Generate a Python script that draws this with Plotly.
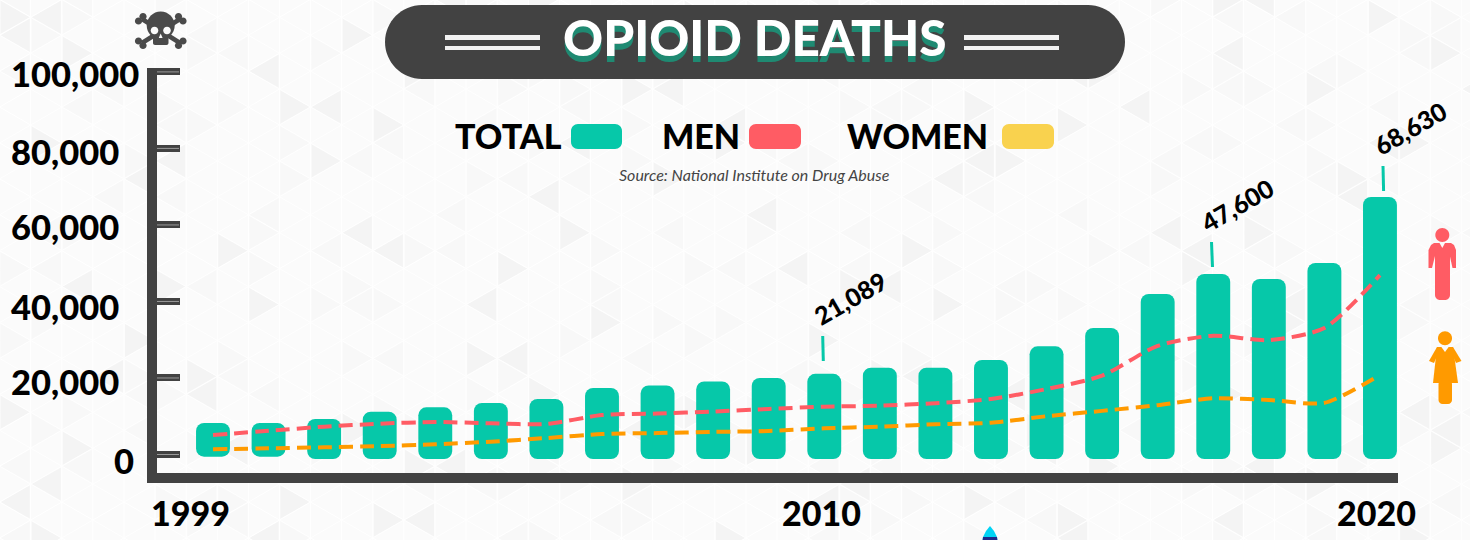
import math
import plotly.graph_objects as go

# ---------- data ----------
years = list(range(1999, 2021))
total = [8230, 8230, 9280, 11190, 12340, 13460, 14510, 17380, 18030, 19080, 20000,
         21089, 22690, 22690, 24700, 28280, 33060, 41950, 47200, 45870, 50050, 67300]
men = [5100, 6200, 7270, 8050, 8500, 8150, 7970, 10300, 10700, 11240, 11900,
       12500, 12750, 13400, 14500, 17100, 20600, 28400, 31050, 29900, 33060, 46900]
women = [1360, 1620, 1880, 2200, 2670, 3350, 4300, 5360, 5600, 5900, 6140,
         6850, 7270, 7900, 8300, 10000, 11400, 12900, 14700, 14250, 13500, 20800]
bar_floor = [-570, -570] + [-1180] * 20
y_ticks = [0, 20000, 40000, 60000, 80000, 100000]
y_tick_text = ["0", "20,000", "40,000", "60,000", "80,000", "100,000"]
x_tick_years = [1999, 2010, 2020]
callout_text = ["21,089", "47,600", "68,630"]
legend_names = ["TOTAL", "MEN", "WOMEN"]

# ---------- style ----------
W, H = 1470, 540
L, R, T, B = 157, 1398, 68, 473
DARK = "#424242"
TEAL = "#06c8a9"
RED = "#ff5c64"
ORANGE = "#ff9a00"
YELLOW = "#f9d24e"
BG = "#fbfbfb"
FONT = "Lato"


def px(x):
    return (x - L) / (R - L)


def py(y):
    return (B - y) / (B - T)


def rrect(x0, y0, x1, y1, r):
    k = 0.45 * r
    return (f"M{px(x0+r)},{py(y0)} L{px(x1-r)},{py(y0)} "
            f"C{px(x1-k)},{py(y0)} {px(x1)},{py(y0+k)} {px(x1)},{py(y0+r)} "
            f"L{px(x1)},{py(y1-r)} C{px(x1)},{py(y1-k)} {px(x1-k)},{py(y1)} {px(x1-r)},{py(y1)} "
            f"L{px(x0+r)},{py(y1)} C{px(x0+k)},{py(y1)} {px(x0)},{py(y1-k)} {px(x0)},{py(y1-r)} "
            f"L{px(x0)},{py(y0+r)} C{px(x0)},{py(y0+k)} {px(x0+k)},{py(y0)} {px(x0+r)},{py(y0)} Z")


def poly(points):
    return "M" + " L".join(f"{px(a)},{py(b)}" for a, b in points) + " Z"


def circle(cx, cy, r):
    return rrect(cx - r, cy - r, cx + r, cy + r, r)


shapes = []


def add_path(d, fill, layer="below", line=None, width=0):
    shapes.append(dict(type="path", xref="paper", yref="paper", path=d, fillcolor=fill,
                       line=dict(color=line or "rgba(0,0,0,0)", width=width), layer=layer))


def add_line(x0, y0, x1, y1, color, width, layer="below"):
    shapes.append(dict(type="line", xref="paper", yref="paper", x0=px(x0), y0=py(y0), x1=px(x1), y1=py(y1),
                       line=dict(color=color, width=width), layer=layer))


# ---------- background lattice ----------
col = 31.1
side = col * 2 / math.sqrt(3)
x_start = -0.4
y_start = -0.7
soft, strong = [], []
lattice = []
for i in range(0, 49):
    xa = x_start + i * col
    xb = xa + col
    off = side / 2 if i % 2 else 0
    lattice.append(f"M{px(xa)},{py(0)} L{px(xa)},{py(H)}")
    for j in range(-1, 17):
        ya = y_start + j * side + off
        lattice.append(f"M{px(xa)},{py(ya)} L{px(xb)},{py(ya + side / 2)}")
        lattice.append(f"M{px(xa)},{py(ya)} L{px(xb)},{py(ya - side / 2)}")
        tri_r = [(xa + 1, ya + 1.5), (xa + 1, ya + side - 1.5), (xb - 1, ya + side / 2)]
        tri_l = [(xb - 1, ya + side / 2 + 1.5), (xb - 1, ya + side * 1.5 - 1.5), (xa + 1, ya + side)]
        h1 = (i * 7 + j * 13 + i * j * 3) % 11
        h2 = (i * 5 + j * 17 + i * j) % 13
        if h1 == 0:
            strong.append(poly(tri_r))
        elif h1 in (3, 7):
            soft.append(poly(tri_r))
        if h2 == 0:
            strong.append(poly(tri_l))
        elif h2 in (4, 9):
            soft.append(poly(tri_l))
add_path(" ".join(soft), "#f8f8f8")
add_path(" ".join(strong), "#f4f4f4")
shapes.append(dict(type="path", xref="paper", yref="paper", path=" ".join(lattice),
                   line=dict(color="#ffffff", width=1), layer="below"))

# ---------- title pill ----------
add_path(rrect(385, 5, 1125, 79, 37), DARK, "above")
for xa, xb in ((445, 540), (964, 1059)):
    add_path(rrect(xa, 35, xb, 40, 0.01), "#f2f2f2", "above")
    add_path(rrect(xa, 46, xb, 50, 0.01), "#f2f2f2", "above")

# ---------- legend swatches ----------
for (xa, xb), c in zip(((571, 622), (749, 801), (1002, 1054)), (TEAL, RED, YELLOW)):
    add_path(rrect(xa, 124, xb, 149, 7), c, "above")

# ---------- tick inner highlight ----------
for v in y_ticks:
    shapes.append(dict(type="line", xref="paper", yref="y", x0=0, x1=px(179), y0=v, y1=v,
                       line=dict(color="#9a9a9a", width=1), layer="above"))

# ---------- callout stems ----------
for x0, y0, x1, y1 in ((822.7, 336, 823.3, 361), (1211.5, 242, 1212.5, 267), (1383, 166, 1383.6, 191)):
    add_line(x0, y0, x1, y1, TEAL, 3)

# ---------- skull ----------
for (a, b, c, d) in ((142, 19, 180, 43), (180, 19, 142, 43)):
    add_line(a, b, c, d, "#4a4a4a", 4.5, "above")
for cx, cy in ((138.5, 21), (143, 16.5), (183, 21), (178.5, 16.5), (138.5, 41), (143, 45.5), (183, 41), (178.5, 45.5)):
    add_path(circle(cx, cy, 3.6), "#4a4a4a", "above")
add_path(circle(160.7, 25.5, 14), "#4a4a4a", "above")
add_path(rrect(153, 32, 168.5, 45, 2), "#4a4a4a", "above")
add_path(circle(154.5, 30.5, 3.8), BG, "above")
add_path(circle(167, 30.5, 3.8), BG, "above")
add_path(poly([(160.7, 33.5), (158.8, 38), (162.6, 38)]), BG, "above")

# ---------- man icon ----------
add_path(circle(1442.3, 235, 7), RED, "above")
add_path(rrect(1435, 244, 1450, 300, 5), RED, "above")
add_path(poly([(1434, 243), (1451, 243), (1454, 245), (1456, 250), (1456, 268), (1452.5, 268), (1449, 252),
               (1436, 252), (1432, 268), (1428.5, 268), (1428.5, 250), (1431, 245)]), RED, "above")
add_path(poly([(1439.5, 243), (1445, 243), (1442.3, 248)]), BG, "above")

# ---------- woman icon ----------
add_path(circle(1445, 338.3, 7), ORANGE, "above")
add_path(poly([(1437, 347), (1453, 347), (1458, 383), (1433, 383)]), ORANGE, "above")
add_path(rrect(1438.5, 380, 1452, 404, 4), ORANGE, "above")
add_path(poly([(1437, 347), (1441, 347), (1434, 363), (1429, 361)]), ORANGE, "above")
add_path(poly([(1453, 347), (1449, 347), (1456, 363), (1461.5, 361)]), ORANGE, "above")
add_path(poly([(1441, 346.5), (1449, 346.5), (1445, 352)]), BG, "above")

# ---------- droplet at the bottom edge ----------
add_path(poly([(990, 526), (994, 531), (997, 537), (997.5, 541), (982.5, 541), (983, 537), (986, 531)]),
         "#00d4f5", "above")
add_path(poly([(983, 537), (997, 537), (997.5, 541), (982.5, 541)]), "#1d2a8a", "above")

# ---------- text ----------
annotations = []


def txt(x, y, s, size, color="#000000", anchor="center", weight=900, italic=False, angle=0, shadow=None):
    font = dict(family=FONT, size=size, color=color, weight=weight, style="italic" if italic else "normal")
    if shadow:
        font["shadow"] = shadow
    annotations.append(dict(x=px(x), y=py(y), xref="paper", yref="paper", text=s,
                            showarrow=False, xanchor=anchor, yanchor="middle", textangle=angle, font=font))


txt(755, 37, "OPIOID DEATHS", 49.5, "#ffffff", shadow="0px 6px 0px #1f8a72")
for x, y, s in ((508, 136, legend_names[0]), (700.5, 136, legend_names[1]), (917, 136, legend_names[2])):
    txt(x, y, s, 34)
txt(754, 174, "Source: National Institute on Drug Abuse", 16, "#444444", weight=400, italic=True)

for v, s, shift in zip(y_ticks, y_tick_text, (-6, -4, -5, -2, -3, -2)):
    annotations.append(dict(x=px(124 if v == 0 else 9), y=v, xref="paper", yref="y", text=s, showarrow=False,
                            xanchor="center" if v == 0 else "left", yanchor="middle", yshift=shift,
                            font=dict(family=FONT, size=34.5, color="#000000", weight=900)))

for yr, shift, in zip(x_tick_years, (-23, -3, -3)):
    annotations.append(dict(x=yr, y=py(512), xref="x", yref="paper", text=str(yr), showarrow=False,
                            xanchor="center", yanchor="middle", xshift=shift,
                            font=dict(family=FONT, size=34, color="#000000", weight=900)))

for (x, y), s in zip(((850, 298), (1237, 205), (1410, 128)), callout_text):
    txt(x, y, s, 25, weight=900, angle=-30)

# ---------- marks ----------
fig = go.Figure()
fig.add_trace(go.Bar(x=years, base=bar_floor, y=[v - f for v, f in zip(total, bar_floor)], width=0.61,
                     marker=dict(color=TEAL, cornerradius=8, line=dict(width=0)), name="TOTAL"))
fig.add_trace(go.Scatter(x=years, y=men, mode="lines", name="MEN",
                         line=dict(color=RED, width=4, dash="14px,7px", shape="spline", smoothing=0.7)))
fig.add_trace(go.Scatter(x=years, y=women, mode="lines", name="WOMEN",
                         line=dict(color=ORANGE, width=4, dash="14px,7px", shape="spline", smoothing=0.7)))

per_px_y = 1000 / 3.826
per_px_x = 1 / 55.57
fig.update_layout(
    width=W, height=H, autosize=False,
    margin=dict(l=L, r=W - R, t=T, b=H - B, pad=0, autoexpand=False),
    paper_bgcolor=BG, plot_bgcolor="rgba(0,0,0,0)",
    barmode="overlay", showlegend=False, hovermode=False,
    shapes=shapes, annotations=annotations,
    xaxis=dict(range=[1999 - (213 - L) * per_px_x, 1999 + (R - 213) * per_px_x], showgrid=False, zeroline=False,
               showline=True, linecolor=DARK, linewidth=10, tickvals=x_tick_years, ticks="", showticklabels=False),
    yaxis=dict(range=[-(B - 454.5) * per_px_y, (454.5 - T) * per_px_y], showgrid=False, zeroline=False,
               showline=True, linecolor=DARK, linewidth=10, tickvals=y_ticks, ticks="inside", ticklen=23,
               tickwidth=7, tickcolor=DARK, showticklabels=False),
)

fig.write_html("out.html", config=dict(displayModeBar=False),
               post_script="document.body.style.margin='0';document.body.style.overflow='hidden';")
